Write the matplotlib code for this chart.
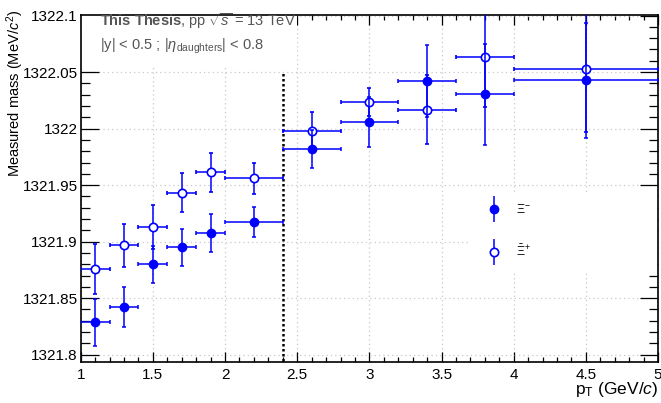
import matplotlib
matplotlib.use("Agg")
import matplotlib.pyplot as plt
from matplotlib.ticker import MultipleLocator, FuncFormatter
from matplotlib.patches import Rectangle
from matplotlib.legend_handler import HandlerErrorbar

plt.rcParams['font.family'] = ['Liberation Sans', 'DejaVu Sans']
plt.rcParams['mathtext.fontset'] = 'custom'
plt.rcParams['mathtext.rm'] = 'Liberation Sans'
plt.rcParams['mathtext.it'] = 'Liberation Sans:italic'
plt.rcParams['mathtext.bf'] = 'Liberation Sans:bold'

# pT bins (centre and half width)
pt = [1.1, 1.3, 1.5, 1.7, 1.9, 2.2, 2.6, 3.0, 3.4, 3.8, 4.5]
pt_err = [0.1, 0.1, 0.1, 0.1, 0.1, 0.2, 0.2, 0.2, 0.2, 0.2, 0.5]

# Xi- (filled)
mass_xim = [1321.8287, 1321.8425, 1321.8800, 1321.8950, 1321.9077, 1321.9172,
            1321.9818, 1322.0059, 1322.0422, 1322.0304, 1322.0428]
err_xim = [0.0208, 0.0177, 0.0162, 0.0164, 0.0170, 0.0130,
           0.0168, 0.0218, 0.0320, 0.0445, 0.0510]

# anti-Xi+ (open)
mass_xip = [1321.8758, 1321.8968, 1321.9130, 1321.9431, 1321.9614, 1321.9561,
            1321.9982, 1322.0239, 1322.0165, 1322.0637, 1322.0531]
err_xip = [0.0217, 0.0190, 0.0195, 0.0173, 0.0174, 0.0137,
           0.0168, 0.0124, 0.0305, 0.0450, 0.0560]

pt_cut = 2.4
cut_top = 1322.05

fig = plt.figure(figsize=(6.61, 4.03), dpi=100)
ax = fig.add_axes([0.1221, 0.1017, 0.8734, 0.8611])
ax.set_axisbelow(True)

blue = '#0000ff'
ax.errorbar(pt, mass_xip, xerr=pt_err, yerr=err_xip, fmt='o', color=blue,
            mfc='white', mec=blue, mew=1.2, ms=6, elinewidth=1.1, capsize=1.5,
            capthick=1.1, zorder=3)
ax.errorbar(pt, mass_xim, xerr=pt_err, yerr=err_xim, fmt='o', color=blue,
            mfc=blue, mec=blue, ms=6, elinewidth=1.1, capsize=1.5,
            capthick=1.1, zorder=4)

ax.vlines(pt_cut, 1321.79, cut_top, colors='black', linestyles=(0, (1, 1)),
          linewidth=1.8, zorder=2)

ax.set_xlim(1, 5)
ax.set_ylim(1321.7935, 1322.1005)

ax.xaxis.set_major_locator(MultipleLocator(0.5))
ax.xaxis.set_minor_locator(MultipleLocator(0.1))
ax.yaxis.set_major_locator(MultipleLocator(0.05))
ax.yaxis.set_minor_locator(MultipleLocator(0.01))
fmt = FuncFormatter(lambda v, p: '{:g}'.format(round(v, 4)))
ax.xaxis.set_major_formatter(fmt)
ax.yaxis.set_major_formatter(fmt)

ax.tick_params(axis='both', which='both', direction='in', top=True, right=True,
               labelsize=11, width=0.9)
ax.tick_params(axis='y', which='major', length=13, pad=2)
ax.tick_params(axis='y', which='minor', length=6.5)
ax.tick_params(axis='x', which='major', length=7, pad=4)
ax.tick_params(axis='x', which='minor', length=3.6)
for s in ax.spines.values():
    s.set_linewidth(1.2)

ax.grid(True, which='major', color='#c8c8c8', linestyle=(0, (1, 2.5)), linewidth=0.9)

ax.set_ylabel(r'Measured mass (MeV/$c^{2}$)', fontsize=10.5, loc='top')
ax.yaxis.set_label_coords(-0.094, 1.014)
ax.set_xlabel(r'p$_{\mathrm{T}}$ (GeV/$c$)', fontsize=12.5, loc='right', labelpad=-1)

# white boxes behind text and legend
ax.add_patch(Rectangle((0.0, 0.847), 0.375, 0.153, transform=ax.transAxes,
                       fc='white', ec='none', zorder=1))
ax.add_patch(Rectangle((0.67, 0.262), 0.33, 0.22, transform=ax.transAxes,
                       fc='white', ec='none', zorder=1))

ax.text(0.033, 0.983, r'$\mathbf{This\ Thesis}$, pp $\sqrt{s}$ = 13 TeV',
        transform=ax.transAxes, fontsize=10.5, color='#555555', va='center', ha='left')
ax.text(0.033, 0.909, r'|y| < 0.5 ; |$\eta_{\mathrm{daughters}}$| < 0.8',
        transform=ax.transAxes, fontsize=10.5, color='#555555', va='center', ha='left')

h1 = ax.errorbar([], [], yerr=[], fmt='o', color=blue, mfc=blue, mec=blue, ms=6,
                 elinewidth=1.1, capsize=2, capthick=1.1)
h2 = ax.errorbar([], [], yerr=[], fmt='o', color=blue, mfc='white', mec=blue,
                 mew=1.2, ms=6, elinewidth=1.1, capsize=2, capthick=1.1)
leg = ax.legend([h1, h2], [r'$\Xi^{-}$', r'$\bar{\Xi}^{+}$'], loc='center left',
                bbox_to_anchor=(0.683, 0.377), frameon=False, fontsize=9,
                borderpad=0, handlelength=2, handletextpad=0.8, labelspacing=2.2,
                handler_map={type(h1): HandlerErrorbar(yerr_size=1.05)})
leg.set_zorder(5)

fig.savefig('out.png', dpi=100)
